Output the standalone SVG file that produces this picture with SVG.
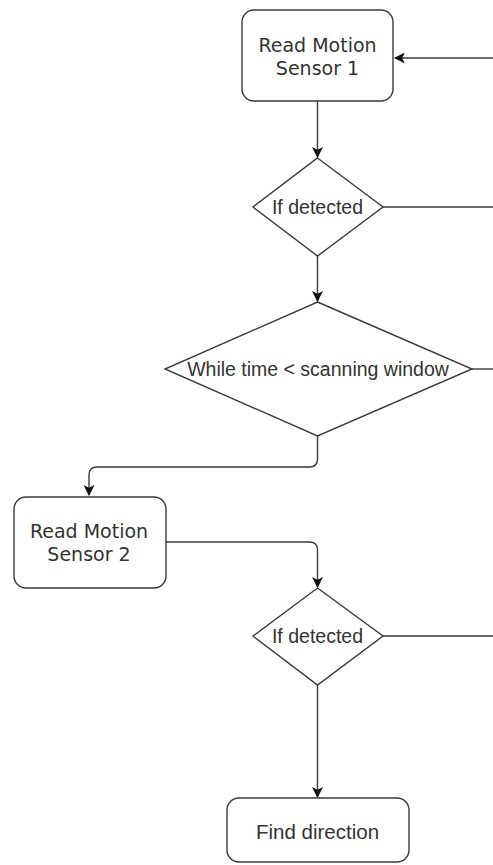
<svg xmlns="http://www.w3.org/2000/svg" width="493" height="865" viewBox="0 0 493 865">
  <style>
    .shape { fill: #ffffff; stroke: #3a3a3a; stroke-width: 1.4; }
    .edge { fill: none; stroke: #3a3a3a; stroke-width: 1.4; }
    .verd { font-family: "DejaVu Sans", Verdana, sans-serif; font-size: 19px; fill: #333333; text-anchor: middle; }
    .sans { font-family: "Liberation Sans", Arial, sans-serif; font-size: 19.5px; fill: #333333; text-anchor: middle; }
  </style>
  <defs>
    <marker id="arrow" viewBox="0 0 10 10" refX="9" refY="5" markerWidth="11" markerHeight="11" markerUnits="userSpaceOnUse" orient="auto">
      <path d="M0,0 L10,5 L0,10 L2.5,5 Z" fill="#111111"/>
    </marker>
  </defs>
  <rect width="493" height="865" fill="#ffffff"/>

  <g id="connectors">
    <!-- loop back into sensor 1 -->
    <path class="edge" d="M493,58 L395,58" marker-end="url(#arrow)"/>
    <!-- sensor 1 to first check -->
    <path class="edge" d="M317.5,101 L317.5,157" marker-end="url(#arrow)"/>
    <!-- first check: not detected -->
    <path class="edge" d="M383,207 L493,207"/>
    <!-- first check: detected -->
    <path class="edge" d="M317.5,256 L317.5,301" marker-end="url(#arrow)"/>
    <!-- scanning window exit -->
    <path class="edge" d="M472,369 L493,369"/>
    <!-- scanning window to sensor 2 -->
    <path class="edge" d="M317.5,436 L317.5,459 Q317.5,467 309.5,467 L97,467 Q89,467 89,475 L89,495" marker-end="url(#arrow)"/>
    <!-- sensor 2 to second check -->
    <path class="edge" d="M166,542 L309.5,542 Q317.5,542 317.5,550 L317.5,587" marker-end="url(#arrow)"/>
    <!-- second check: not detected -->
    <path class="edge" d="M383,636 L493,636"/>
    <!-- second check: detected -->
    <path class="edge" d="M317.5,685 L317.5,797" marker-end="url(#arrow)"/>
  </g>

  <g id="read-sensor-1">
    <rect class="shape" x="242" y="10" width="151" height="91" rx="12" ry="12"/>
    <text class="verd" x="317.5" y="52">Read Motion</text>
    <text class="verd" x="317.5" y="75">Sensor 1</text>
  </g>

  <g id="check-1">
    <polygon class="shape" points="317.5,158 383,207 317.5,256 253,207"/>
    <text class="sans" x="317.5" y="213.5">If detected</text>
  </g>

  <g id="scan-window">
    <polygon class="shape" points="317.5,302 472,369 317.5,436 165,369"/>
    <text class="sans" x="318" y="376">While time &lt; scanning window</text>
  </g>

  <g id="read-sensor-2">
    <rect class="shape" x="14" y="497" width="152" height="91" rx="12" ry="12"/>
    <text class="verd" x="89" y="538">Read Motion</text>
    <text class="verd" x="89" y="561">Sensor 2</text>
  </g>

  <g id="check-2">
    <polygon class="shape" points="317.5,588 383,636 317.5,685 253,636"/>
    <text class="sans" x="317.5" y="642.5">If detected</text>
  </g>

  <g id="find-direction">
    <rect class="shape" x="227" y="798" width="182" height="64" rx="12" ry="12"/>
    <text class="sans" x="317.5" y="839" style="font-size:20.5px">Find direction</text>
  </g>
</svg>
